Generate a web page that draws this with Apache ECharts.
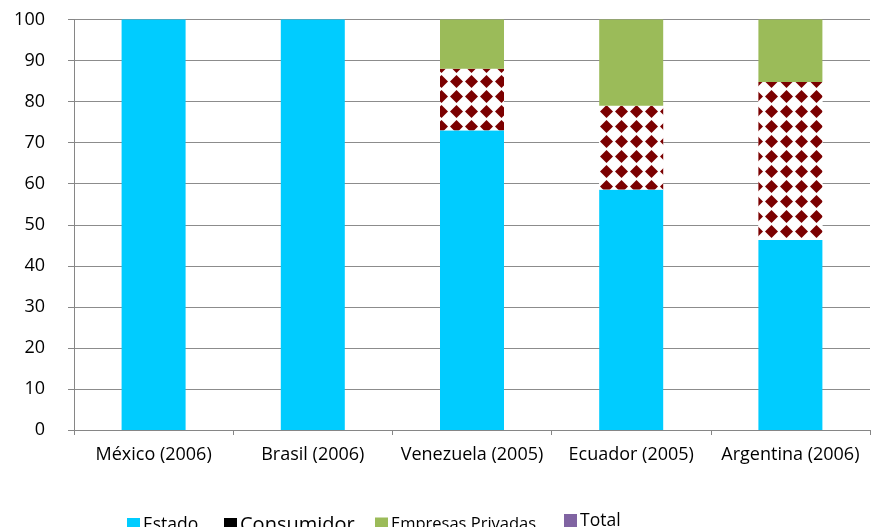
<!DOCTYPE html>
<html>
<head>
<meta charset="utf-8">
<script src="https://cdn.jsdelivr.net/npm/echarts@6/dist/echarts.min.js"></script>
<style>html,body{margin:0;padding:0;background:#fff;}#c{width:878px;height:527px;}</style>
</head>
<body>
<div id="c"></div>
<script>
const categories = ['México (2006)', 'Brasil (2006)', 'Venezuela (2005)', 'Ecuador (2005)', 'Argentina (2006)'];
const estado = [100, 100, 73, 58.6, 46.3];
const consumidor = [0, 0, 15, 20.4, 38.5];
const empresas = [0, 0, 12, 21, 15.2];
const total = [0, 0, 0, 0, 0];
const yTicks = [0, 10, 20, 30, 40, 50, 60, 70, 80, 90, 100];

const FONT = '"Open Sans", "Noto Sans", sans-serif';
const chart = echarts.init(document.getElementById('c'));
function leg(name, left, top, fontSize, color) {
  return {
    left: left, top: top, icon: 'rect', itemWidth: 13, itemHeight: 14, itemGap: 4,
    selectedMode: false,
    textStyle: { fontFamily: FONT, fontSize: fontSize, color: '#000', padding: [0, 0, 0, -2] },
    data: [{ name: name, itemStyle: { color: color, decal: 'none' } }]
  };
}
chart.setOption({
  animation: false,
  aria: { enabled: false },
  grid: { left: 74, right: 8, top: 19.5, bottom: 97 },
  legend: [
    leg('Estado', 122, 511, 17.5, '#00CCFF'),
    leg('Consumidor', 219, 510, 20, '#000000'),
    leg('Empresas Privadas', 370, 511, 16.5, '#9BBB59'),
    leg('Total', 559, 507, 17.5, '#8064A2')
  ],
  xAxis: {
    type: 'category', data: categories,
    axisLine: { lineStyle: { color: '#868686', width: 1 } },
    axisTick: { show: true, length: 5, lineStyle: { color: '#868686' } },
    axisLabel: { fontFamily: FONT, fontSize: 18, color: '#000', margin: 16, interval: 0, hideOverlap: false }
  },
  yAxis: {
    type: 'value', min: 0, max: 100, interval: 10,
    axisLine: { show: true, lineStyle: { color: '#868686' } },
    axisTick: { show: true, length: 6, lineStyle: { color: '#868686' } },
    splitLine: { lineStyle: { color: '#8c8c8c', width: 1 } },
    axisLabel: { fontFamily: FONT, fontSize: 18, color: '#000', margin: 29,
      formatter: v => (yTicks.indexOf(v) >= 0 ? String(v) : '') }
  },
  series: [
    { name: 'Estado', type: 'bar', stack: 's', barWidth: 64, data: estado,
      itemStyle: { color: '#00CCFF' } },
    { name: 'Consumidor', type: 'bar', stack: 's', data: consumidor,
      itemStyle: { color: '#ffffff', decal: { symbol: 'diamond', color: '#7B0000', backgroundColor: '#ffffff',
        dashArrayX: [13, 2], dashArrayY: [13, 2], symbolSize: 1, rotation: 0 } } },
    { name: 'Empresas Privadas', type: 'bar', stack: 's', data: empresas,
      itemStyle: { color: '#9BBB59' } },
    { name: 'Total', type: 'bar', stack: 's', data: total,
      itemStyle: { color: '#8064A2' } }
  ]
});
</script>
</body>
</html>
